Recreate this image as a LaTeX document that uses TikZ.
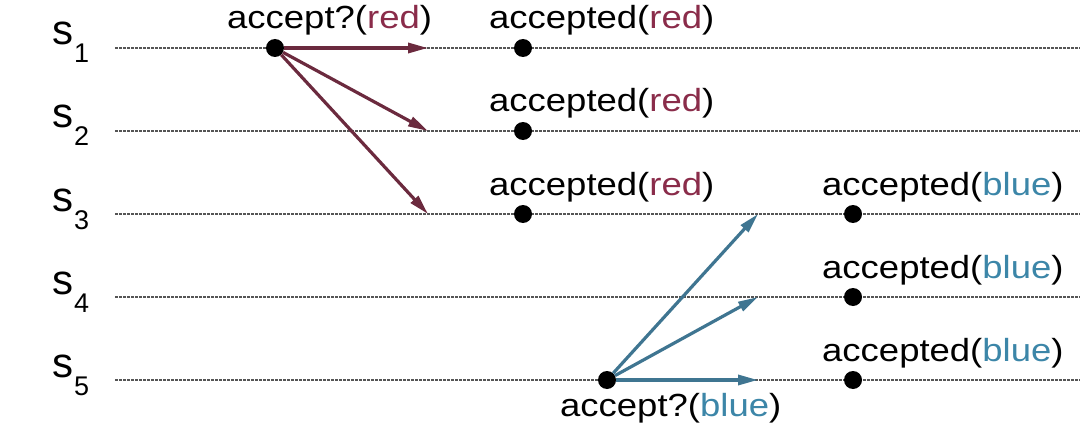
\documentclass[tikz,border=0pt]{standalone}
\usepackage{fontspec}
\setmainfont{Liberation Sans}
\usepackage{graphicx}
\usetikzlibrary{arrows.meta,positioning}
\definecolor{redmsg}{HTML}{8A2C4A}
\definecolor{redarr}{HTML}{6B2A3E}
\definecolor{bluemsg}{HTML}{3C86A8}
\definecolor{bluearr}{HTML}{3F7591}
\definecolor{tline}{HTML}{555555}
\newcommand{\wtxt}[1]{\scalebox{1.14}[1]{#1}}

\begin{document}
\begin{tikzpicture}[x=1pt, y=-1pt,
  font=\fontsize{32}{36}\selectfont,
  timeline/.style={draw=tline, line width=2.6pt, dash pattern=on 2.6pt off 1.4pt},
  event/.style={circle, fill=black, inner sep=0pt, minimum size=18pt},
  msg/.style={inner sep=0pt, anchor=base west},
  proc/.style={inner sep=0pt, anchor=base west, font=\fontsize{42}{46}\selectfont},
  redarrow/.style={-{Triangle[length=20pt, width=10pt]}, line width=3.2pt, draw=redarr},
  bluearrow/.style={-{Triangle[length=20pt, width=10pt]}, line width=3.2pt, draw=bluearr}
]

\useasboundingbox (0,0) rectangle (1080,444);

% process lines
\foreach \i/\y in {1/48, 2/131, 3/214, 4/297, 5/380} {
  \node[proc] (s\i) at (52,\y-3) {s\kern1pt\raisebox{-18pt}{\fontsize{27}{30}\selectfont\i}};
  \draw[timeline] (115,\y) -- (1080,\y);
}

% events
\node[event] (req1) at (275,48) {};
\node[event] (ack1) at (523,48) {};
\node[event] (ack2) at (523,131) {};
\node[event] (ack3) at (523,214) {};
\node[event] (req5) at (607,380) {};
\node[event] (ack3b) at (853,214) {};
\node[event] (ack4b) at (853,297) {};
\node[event] (ack5b) at (853,380) {};

% message ends
\coordinate (r1) at (428,48);
\coordinate (r2) at (428,131);
\coordinate (r3) at (428,214);
\coordinate (b3) at (758,214);
\coordinate (b4) at (758,297);
\coordinate (b5) at (758,380);

\draw[redarrow] (req1) -- (r1);
\draw[redarrow] (req1) -- (r2);
\draw[redarrow] (req1) -- (r3);
\draw[bluearrow] (req5) -- (b3);
\draw[bluearrow] (req5) -- (b4);
\draw[bluearrow] (req5) -- (b5);

% labels
\node[msg] (lreq1) at (227,29) {\wtxt{accept?(\textcolor{redmsg}{red})}};
\node[msg] (lack1) at (489,29) {\wtxt{accepted(\textcolor{redmsg}{red})}};
\node[msg] (lack2) at (489,112) {\wtxt{accepted(\textcolor{redmsg}{red})}};
\node[msg] (lack3) at (489,195) {\wtxt{accepted(\textcolor{redmsg}{red})}};
\node[msg] (lreq5) at (560,416) {\wtxt{accept?(\textcolor{bluemsg}{blue})}};
\node[msg] (lack3b) at (822,195) {\wtxt{accepted(\textcolor{bluemsg}{blue})}};
\node[msg] (lack4b) at (822,278) {\wtxt{accepted(\textcolor{bluemsg}{blue})}};
\node[msg] (lack5b) at (822,361) {\wtxt{accepted(\textcolor{bluemsg}{blue})}};

\end{tikzpicture}
\end{document}
